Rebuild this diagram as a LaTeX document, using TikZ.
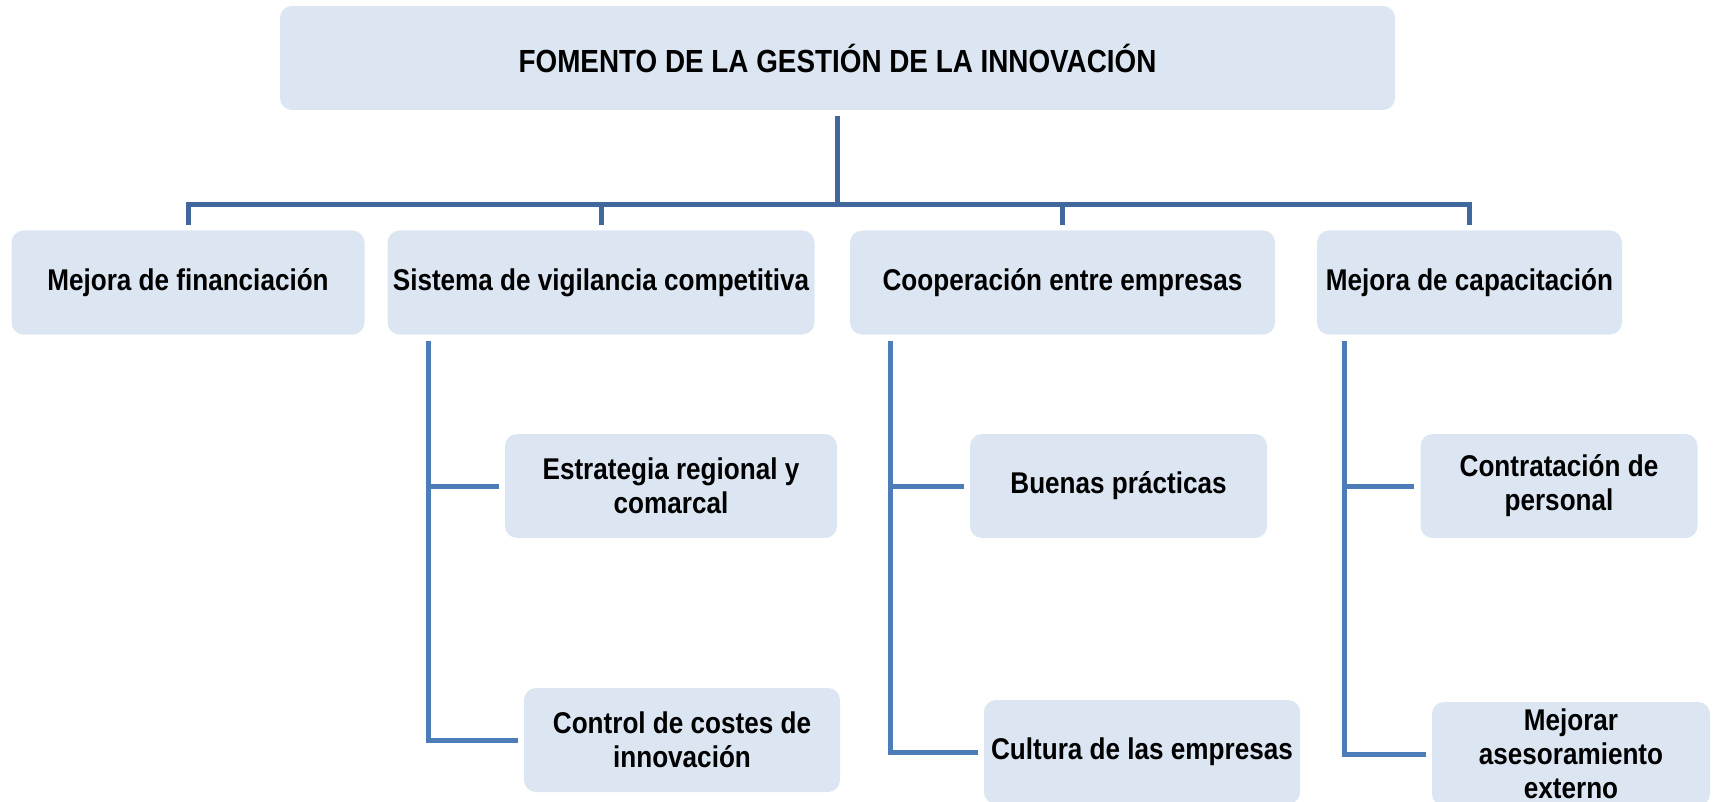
\documentclass[tikz,border=0pt]{standalone}
\usepackage{fontspec}
\setmainfont{Liberation Sans}[FakeStretch=0.87]
\definecolor{boxfill}{RGB}{220,230,242}
\definecolor{linedark}{RGB}{65,104,156}
\definecolor{linelight}{RGB}{76,125,185}
\begin{document}
\begin{tikzpicture}[
		x=1pt, y=-1pt,
		box/.style={rectangle, rounded corners=12pt, fill=boxfill, align=center,
				inner sep=2pt, minimum height=104pt,
				font=\fontsize{30}{34}\selectfont\bfseries},
		conn/.style={draw=linedark, line width=5pt},
		sub/.style={draw=linelight, line width=5pt}
	]
	\useasboundingbox (0,0) rectangle (1713,802);

	\node[box, minimum width=1115pt, font=\fontsize{32}{36}\selectfont\bfseries] (top) at (837.5,58) {FOMENTO DE LA GESTIÓN DE LA INNOVACIÓN};

	\node[box, minimum width=353pt] (fin) at (188,282.5) {Mejora de financiación};
	\node[box, minimum width=427pt] (vig) at (601,282.5) {Sistema de vigilancia competitiva};
	\node[box, minimum width=425pt] (coop) at (1062.5,282.5) {Cooperación entre empresas};
	\node[box, minimum width=305pt] (cap) at (1469.5,282.5) {Mejora de capacitación};

	\node[box, minimum width=332pt] (estr) at (671,486) {Estrategia regional y\\comarcal};
	\node[box, minimum width=316pt] (ctrl) at (682,740) {Control de costes de\\innovación};
	\node[box, minimum width=297pt] (buen) at (1118.5,486) {Buenas prácticas};
	\node[box, minimum width=316pt] (cult) at (1142,752) {Cultura de las empresas};
	\node[box, minimum width=277pt] (cont) at (1559,486) {Contratación de\\personal};
	\node[box, minimum width=278pt] (mejo) at (1571,754) {Mejorar\\asesoramiento\\externo};

	% upper level
	\coordinate (bus) at (838,205);
	\draw[conn, shorten <=6pt] (top.south) -- (top.south |- bus);
	\draw[conn, shorten <=5pt, shorten >=5pt] (fin.north) -- (fin.north |- bus) -- (cap.north |- bus) -- (cap.north);
	\foreach \n in {vig,coop}
	\draw[conn, shorten >=5pt] (\n.north |- bus) -- (\n.north);

	% lower level
	\coordinate (vigtop) at (428,341);
	\coordinate (cooptop) at (890,341);
	\coordinate (captop) at (1344,341);
	\draw[sub, shorten >=6pt] (vigtop) |- (ctrl.west);
	\draw[sub, shorten >=6pt] (vigtop |- estr.west) -- (estr.west);
	\draw[sub, shorten >=6pt] (cooptop) |- (cult.west);
	\draw[sub, shorten >=6pt] (cooptop |- buen.west) -- (buen.west);
	\draw[sub, shorten >=6pt] (captop) |- (mejo.west);
	\draw[sub, shorten >=6pt] (captop |- cont.west) -- (cont.west);
\end{tikzpicture}
\end{document}
